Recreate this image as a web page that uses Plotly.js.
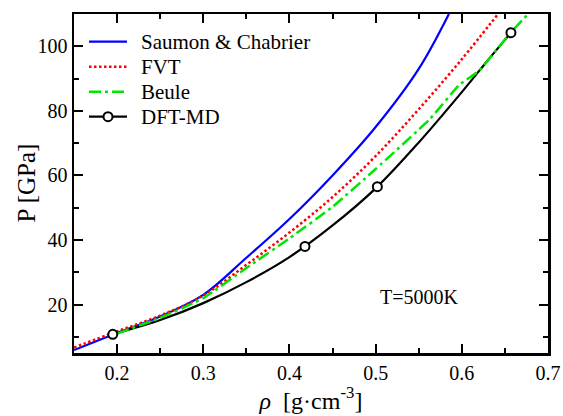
<!DOCTYPE html>
<html>
<head>
<meta charset="utf-8">
<script src="https://cdn.plot.ly/plotly-3.0.1.min.js"></script>
<style>html,body{margin:0;padding:0;background:#fff;}#chart{width:563px;height:416px;}</style>
</head>
<body>
<div id="chart"></div>
<script>
// Saumon & Chabrier
const rhoSC = [0.15,0.2,0.25,0.3,0.35,0.4,0.45,0.5,0.55,0.585];
const pSC   = [5.9,11.2,16.3,23,34.5,46.5,60,75,93,110];
// FVT
const rhoFVT = [0.15,0.2,0.25,0.3,0.35,0.4,0.45,0.5,0.55,0.6,0.642];
const pFVT   = [6.7,11.7,16.6,22.8,32.3,42.3,53.3,66,80.5,96,110];
// Beule
const rhoB = [0.2,0.25,0.3,0.35,0.4,0.45,0.5,0.563,0.597,0.62,0.64,0.657,0.677];
const pB   = [11,15.9,22,31.3,40.5,50.3,62,77.5,88,92.4,98.8,104.3,110];
// DFT-MD curve
const rhoD = [0.195,0.25,0.3,0.35,0.4,0.45,0.5,0.55,0.6,0.63,0.657];
const pD   = [10.8,15.2,20.45,26.95,34.7,44.5,56,70.2,85.8,95.6,104.2];
// DFT-MD simulation points
const rhoDM = [0.195,0.418,0.502,0.657];
const pDM   = [10.8,38,56.5,104.2];
// axis ticks
const xTickVals = [0.2,0.3,0.4,0.5,0.6,0.7];
const xTickText = ["0.2","0.3","0.4","0.5","0.6","0.7"];
const yTickVals = [20,40,60,80,100];
const yTickText = ["20","40","60","80","100"];
// legend labels
const seriesNames = ["Saumon &amp; Chabrier", "FVT", "Beule", "DFT-MD"];

const FONT = '"Liberation Serif", "Times New Roman", serif';

const styles = [
  {color: "#0000ff", width: 2.2, dash: "solid"},
  {color: "#ff0000", width: 2.5, dash: "2.5px,2.5px"},
  {color: "#00e600", width: 2.5, dash: "12px,4px,3px,4px"},
  {color: "#000000", width: 2.2, dash: "solid"}
];

const traces = [
  {x: rhoSC, y: pSC, mode: "lines", name: seriesNames[0],
   line: Object.assign({shape: "spline", smoothing: 1.0}, styles[0])},
  {x: rhoFVT, y: pFVT, mode: "lines", name: seriesNames[1],
   line: Object.assign({shape: "spline", smoothing: 1.0}, styles[1])},
  {x: rhoD, y: pD, mode: "lines", name: seriesNames[3],
   line: Object.assign({shape: "spline", smoothing: 1.0}, styles[3])},
  {x: rhoB, y: pB, mode: "lines", name: seriesNames[2],
   line: Object.assign({shape: "spline", smoothing: 0.5}, styles[2])},
  {x: rhoDM, y: pDM, mode: "markers", name: seriesNames[3] + " points",
   marker: {symbol: "circle", size: 9, color: "#ffffff", line: {color: "#000000", width: 2}}}
];

// plot area in pixels: left 74, right 548, top 14, bottom 353
const PL = 74, PW = 474, PB = 353, PH = 339;
const px = (v) => (v - PL) / PW;
const py = (v) => (PB - v) / PH;

// hand-placed legend (sample line + label)
const legRows = [41.7, 66.7, 91.7, 116.7];
const shapes = [];
const annotations = [];
legRows.forEach((r, i) => {
  shapes.push({type: "line", xref: "paper", yref: "paper",
    x0: px(89), x1: px(127), y0: py(r), y1: py(r),
    line: {color: styles[i].color, width: styles[i].width, dash: styles[i].dash}});
  annotations.push({xref: "paper", yref: "paper", x: px(139), y: py(r),
    xanchor: "left", yanchor: "middle", text: seriesNames[i], showarrow: false,
    font: {family: FONT, size: 21, color: "#000"}});
});
shapes.push({type: "circle", xref: "paper", yref: "paper", xsizemode: "pixel", ysizemode: "pixel",
  xanchor: px(108), yanchor: py(legRows[3]), x0: -4.5, x1: 4.5, y0: -4.5, y1: 4.5,
  fillcolor: "#ffffff", line: {color: "#000000", width: 2}});

annotations.push({x: 0.55, y: 22.4, xref: "x", yref: "y", text: "T=5000K", showarrow: false,
  font: {family: FONT, size: 20, color: "#000"}});
annotations.push({xref: "paper", yref: "paper", x: px(26), y: 0.5, xanchor: "center", yanchor: "middle",
  textangle: -90, text: "P [GPa]", showarrow: false, font: {family: FONT, size: 25, color: "#000"}});

const axisCommon = {
  showgrid: false, zeroline: false, showline: true, linecolor: "#000", linewidth: 2.5,
  mirror: "ticks", ticks: "inside", ticklen: 9, tickwidth: 2, tickcolor: "#000",
  tickfont: {family: FONT, size: 20, color: "#000"}
};

const layout = {
  width: 563, height: 416,
  margin: {l: 74, r: 15, t: 14, b: 63, pad: 0},
  paper_bgcolor: "#fff", plot_bgcolor: "#fff",
  font: {family: FONT, color: "#000"},
  showlegend: false,
  xaxis: Object.assign({}, axisCommon, {
    range: [0.15, 0.7], tickmode: "array", tickvals: xTickVals, ticktext: xTickText,
    minor: {dtick: 0.05, tick0: 0, ticks: "inside", ticklen: 5, tickwidth: 2, tickcolor: "#000"},
    title: {text: "<i>ρ</i>  [g·cm<sup>-3</sup>]", font: {family: FONT, size: 24, color: "#000"}, standoff: 4}
  }),
  yaxis: Object.assign({}, axisCommon, {
    range: [5, 110], tickmode: "array", tickvals: yTickVals, ticktext: yTickText,
    minor: {dtick: 10, tick0: 0, ticks: "inside", ticklen: 5, tickwidth: 2, tickcolor: "#000"}
  }),
  shapes: shapes,
  annotations: annotations
};

Plotly.newPlot("chart", traces, layout, {displayModeBar: false, staticPlot: true});
</script>
</body>
</html>
